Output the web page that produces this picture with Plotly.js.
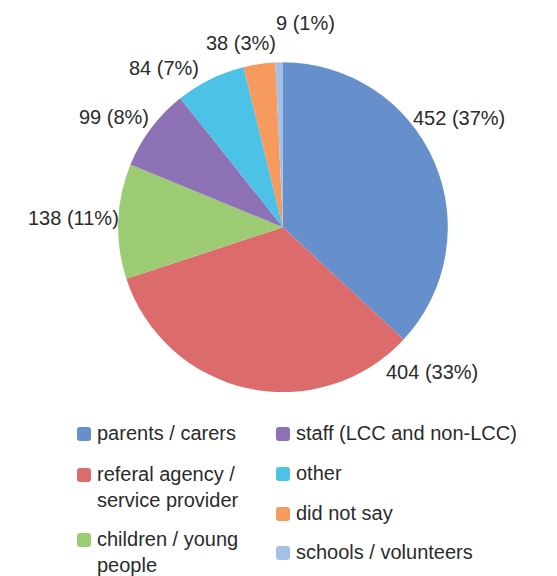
<!DOCTYPE html>
<html>
<head>
<meta charset="utf-8">
<script src="https://cdn.plot.ly/plotly-3.0.1.min.js"></script>
<style>html,body{margin:0;padding:0;background:#fff;}#chart{width:557px;height:576px;}</style>
</head>
<body>
<div id="chart"></div>
<script>
var categories = ["parents / carers", "referal agency / service provider", "children / young people", "staff (LCC and non-LCC)", "other", "did not say", "schools / volunteers"];
var legendLines = ["parents / carers", "referal agency /<br>service provider", "children / young<br>people", "staff (LCC and non-LCC)", "other", "did not say", "schools / volunteers"];
var counts = [452, 404, 138, 99, 84, 38, 9];
var colors = ["#6690cc", "#dc6c6c", "#9dcb74", "#8d72b5", "#4cc2e6", "#f69a5d", "#a3c1e6"];

// label placement (pixel centres) — style only, not data
var labelPos = [[459, 118], [432, 372], [73, 218], [114, 117], [164, 68], [241, 43], [305, 23]];

var W = 557, H = 576;
var FONT = "Liberation Sans, Arial, Helvetica, sans-serif";
function px(x) { return x / W; }
function py(y) { return 1 - y / H; }

var total = counts.reduce(function (a, b) { return a + b; }, 0);

var trace = {
  type: "pie",
  labels: categories,
  values: counts,
  sort: false,
  direction: "clockwise",
  rotation: 0,
  marker: {colors: colors, line: {width: 0}},
  textinfo: "none",
  showlegend: false,
  hoverinfo: "label+value+percent",
  domain: {x: [0.212, 0.804], y: [0.311, 0.900]}
};

var annotations = [];
var shapes = [];

// data labels
counts.forEach(function (v, i) {
  annotations.push({
    xref: "paper", yref: "paper",
    x: px(labelPos[i][0]), y: py(labelPos[i][1]),
    xanchor: "center", yanchor: "middle",
    text: v + " (" + Math.round(v / total * 100) + "%)",
    showarrow: false,
    font: {family: FONT, size: 20, color: "#2b2b2b"}
  });
});

// legend built as annotations + rounded markers
var leftRows = [433, 474, 539];
var rightRows = [433, 473, 513, 552];
function roundRect(cx, cy, s, r) {
  var x0 = cx - s, x1 = cx + s, y0 = cy - s, y1 = cy + s;
  function P(x, y) { return px(x).toFixed(5) + "," + py(y).toFixed(5); }
  return "M" + P(x0 + r, y0) + " L" + P(x1 - r, y0) + " Q" + P(x1, y0) + " " + P(x1, y0 + r) +
    " L" + P(x1, y1 - r) + " Q" + P(x1, y1) + " " + P(x1 - r, y1) +
    " L" + P(x0 + r, y1) + " Q" + P(x0, y1) + " " + P(x0, y1 - r) +
    " L" + P(x0, y0 + r) + " Q" + P(x0, y0) + " " + P(x0 + r, y0) + " Z";
}
function addItem(i, xText, yMid, markerCx) {
  annotations.push({
    xref: "paper", yref: "paper",
    x: px(xText), y: py(yMid - 13),
    xanchor: "left", yanchor: "top", align: "left",
    text: legendLines[i], showarrow: false,
    font: {family: FONT, size: 20, color: "#2b2b2b"}
  });
  shapes.push({type: "path", xref: "paper", yref: "paper", path: roundRect(markerCx, yMid + 1, 7, 3),
    fillcolor: colors[i], line: {width: 0}, layer: "above"});
}
for (var i = 0; i < 3; i++) addItem(i, 95, leftRows[i], 84);
for (var j = 0; j < 4; j++) addItem(3 + j, 294, rightRows[j], 283);

var layout = {
  width: W, height: H,
  margin: {l: 0, r: 0, t: 0, b: 0},
  paper_bgcolor: "#ffffff",
  annotations: annotations,
  shapes: shapes
};

Plotly.newPlot("chart", [trace], layout, {displayModeBar: false, staticPlot: true});
</script>
</body>
</html>
